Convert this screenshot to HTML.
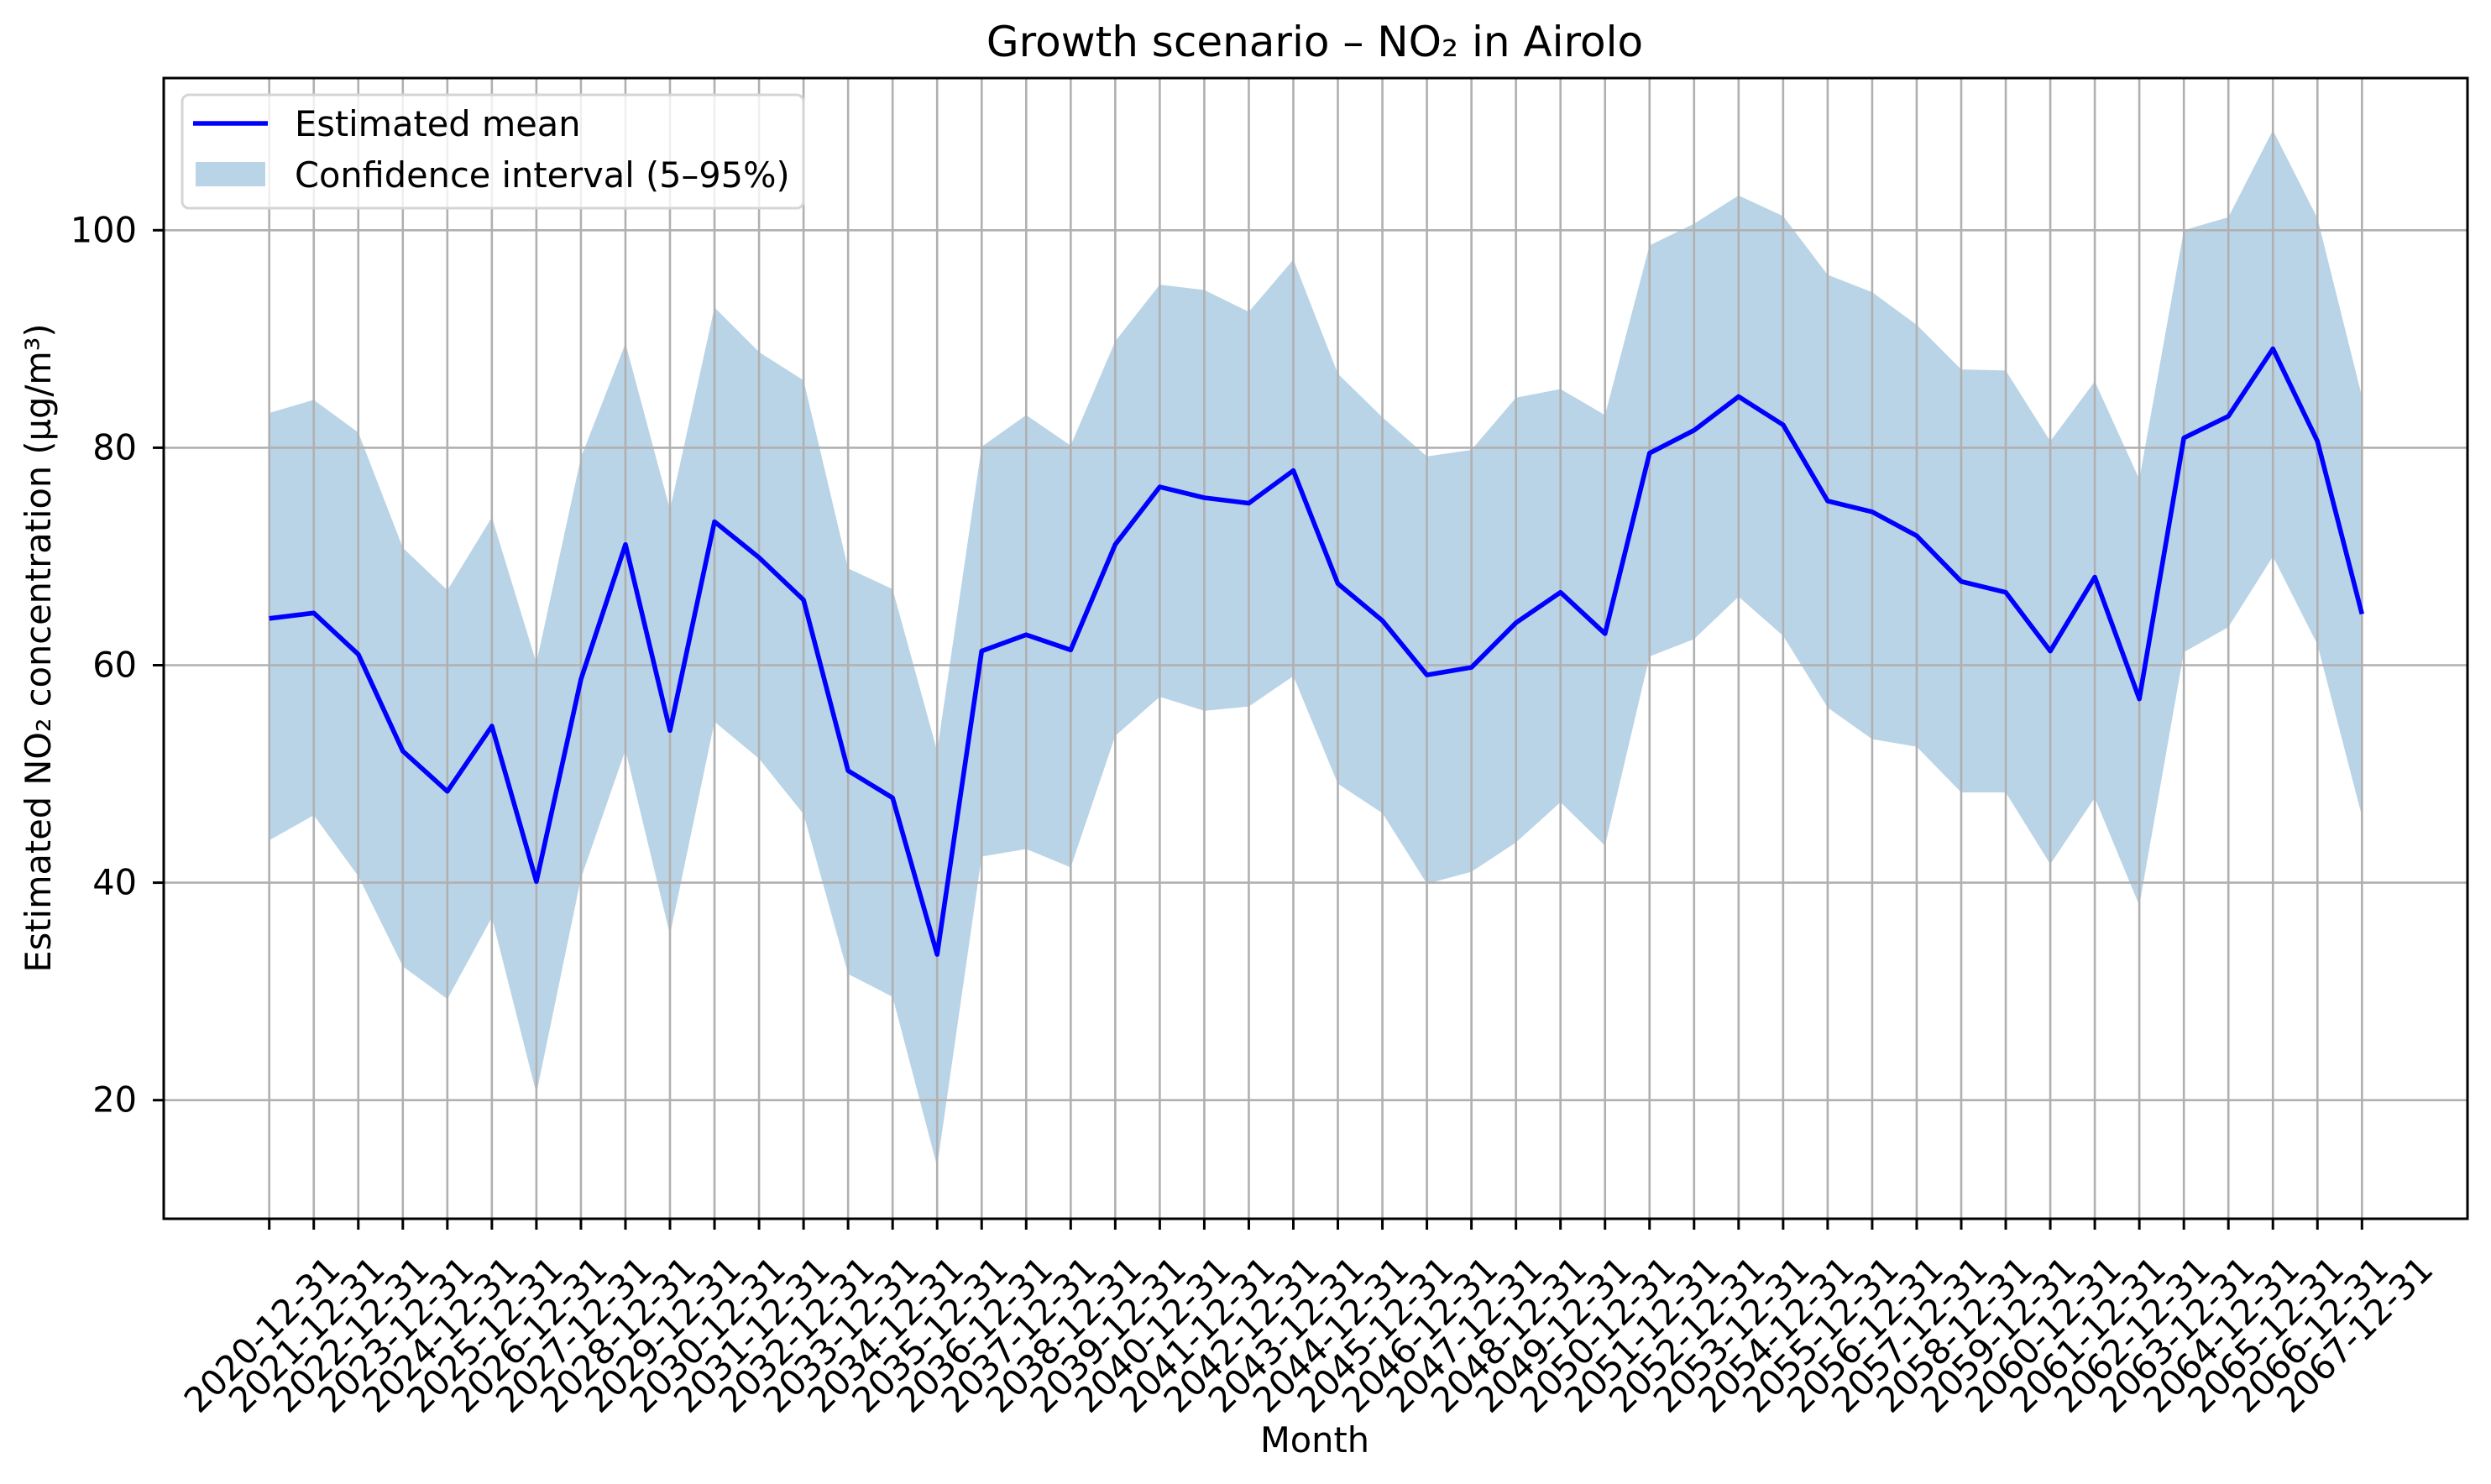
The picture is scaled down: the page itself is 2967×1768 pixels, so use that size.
<!DOCTYPE html>
<html><head><meta charset="utf-8"><style>
html,body{margin:0;padding:0;background:#fff;}
svg{display:block;font-family:"DejaVu Sans","Liberation Sans",sans-serif;}
</style></head><body>
<svg id="chart" width="2967" height="1768" viewBox="0 0 2967 1768">
<text x="1566" y="67" font-size="50" text-anchor="middle">Growth scenario – NO₂ in Airolo</text>
<path id="band" fill="#bad4e7"></path>
<g id="grid"></g>
<polyline id="meanline" fill="none" stroke="#0000ff" stroke-width="5.6" stroke-linejoin="round"></polyline>
<rect x="195" y="93" width="2744" height="1359" fill="none" stroke="#000" stroke-width="3"/>
<g id="axes"></g>
<text x="1566" y="1730" font-size="41.5" text-anchor="middle">Month</text>
<text transform="translate(60,772) rotate(-90)" font-size="41.5" text-anchor="middle">Estimated NO₂ concentration (µg/m³)</text>
<g>
<rect x="217" y="113" width="740" height="135" rx="8" fill="#fff" fill-opacity="0.8" stroke="#d5d5d5" stroke-width="3"/>
<line x1="230" y1="147" x2="319" y2="147" stroke="#0000ff" stroke-width="5.6"/>
<text x="351" y="162" font-size="41.5">Estimated mean</text>
<rect x="233" y="193" width="83" height="29" fill="#bad4e7"/>
<text x="351" y="223" font-size="41.5">Confidence interval (5–95%)</text>
</g>
</svg>
<script>
const years = [];
for (let y = 2020; y <= 2067; y++) years.push(y + "-12-31");
const meanVals = [64.3,64.8,61.0,52.1,48.4,54.4,40.1,58.7,71.1,54.0,73.2,69.9,66.0,50.3,47.8,33.4,61.3,62.8,61.4,71.1,76.4,75.4,74.9,77.9,67.5,64.1,59.1,59.8,63.9,66.7,62.9,79.5,81.6,84.7,82.1,75.1,74.1,71.9,67.7,66.7,61.3,68.1,56.9,80.9,82.9,89.1,80.6,64.7];
const upperVals = [83.2,84.4,81.4,70.8,66.9,73.6,60.2,79.1,89.6,74.3,92.9,88.8,86.2,68.9,67.0,52.1,80.1,83.0,80.2,89.8,95.0,94.5,92.5,97.3,86.8,82.8,79.2,79.8,84.6,85.4,83.0,98.6,100.6,103.2,101.3,95.9,94.3,91.3,87.2,87.1,80.6,86.1,77.1,100.0,101.2,109.2,101.1,84.7];
const lowerVals = [43.9,46.2,40.6,32.3,29.3,36.8,20.6,40.4,52.2,35.2,54.8,51.4,46.3,31.6,29.5,13.9,42.4,43.1,41.4,53.5,57.1,55.8,56.2,59.0,49.1,46.4,39.9,41.0,43.7,47.4,43.4,60.8,62.4,66.3,62.7,56.1,53.2,52.5,48.3,48.3,41.7,47.8,37.9,61.2,63.5,70.0,61.9,46.1];
const yTicks = [20,40,60,80,100];

const NS = "http://www.w3.org/2000/svg";
const L = 195, R = 2939, T = 93, B = 1452;
function xs(i){ return 320.7 + i * (2813.3 - 320.7) / (years.length - 1); }
function ys(v){ return 274.3 + (100 - v) * 12.955; }
function mk(tag, attrs, parent){ const e = document.createElementNS(NS, tag); for (const k in attrs) e.setAttribute(k, attrs[k]); parent.appendChild(e); return e; }
const grid = document.getElementById("grid"), axes = document.getElementById("axes");
years.forEach((lab, i) => {
  const x = xs(i);
  const g = mk("line", {x1:x, x2:x, y1:T, y2:B, stroke:"#b0b0b0", "stroke-width":2.6}, grid);
  
  
  const t = mk("line", {x1:x, x2:x, y1:B, y2:B+13, stroke:"#000", "stroke-width":3}, axes);
  
  
  const tx = mk("text", {transform:"translate(" + (x + 87) + "," + 1515 + ") rotate(-45)", "font-size":41.5, "text-anchor":"end"}, axes);
  tx.textContent = lab;
  
  
});
yTicks.forEach(v => {
  const y = ys(v);
  const g = mk("line", {x1:L, x2:R, y1:y, y2:y, stroke:"#b0b0b0", "stroke-width":2.6}, grid);
  
  
  const t = mk("line", {x1:L-13, x2:L, y1:y, y2:y, stroke:"#000", "stroke-width":3}, axes);
  
  
  const tx = mk("text", {x:163, y:y+14, "font-size":41.5, "text-anchor":"end"}, axes);
  tx.textContent = v;
  
  
});
let d = "";
upperVals.forEach((v, i) => { d += (i ? "L" : "M") + xs(i) + "," + ys(v); });
for (let i = lowerVals.length - 1; i >= 0; i--) d += "L" + xs(i) + "," + ys(lowerVals[i]);
document.getElementById("band").setAttribute("d", d + "Z");
document.getElementById("meanline").setAttribute("points", meanVals.map((v, i) => xs(i) + "," + ys(v)).join(" "));
</script>
</body></html>
